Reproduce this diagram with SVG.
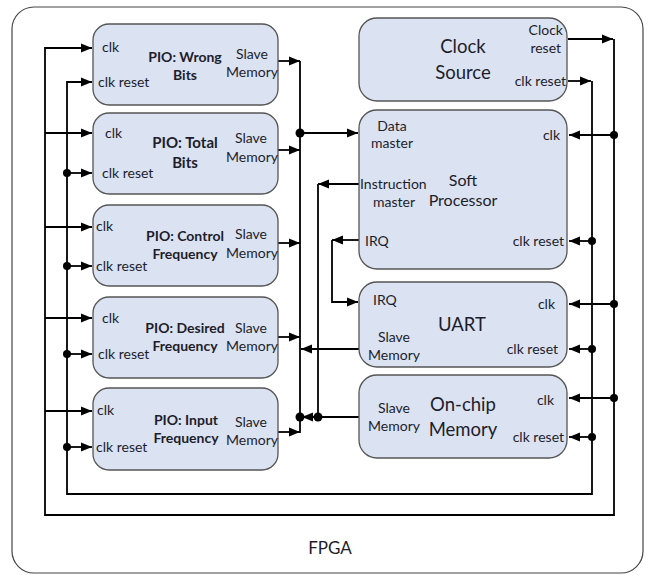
<svg xmlns="http://www.w3.org/2000/svg" width="652" height="575" viewBox="0 0 652 575">
<defs>
<marker id="ah" markerUnits="userSpaceOnUse" markerWidth="12" markerHeight="12" viewBox="0 0 12 12" refX="11" refY="6" orient="auto">
<path d="M0,1.5 L11,6 L0,10.5 Z" fill="#000"/>
</marker>
<style>
.frame{fill:#fff;stroke:#444;stroke-width:1.2}
.box{fill:#dbe2f2;stroke:#555;stroke-width:1.3}
.w{fill:none;stroke:#000;stroke-width:1.8}
.a{fill:none;stroke:#000;stroke-width:1.8;marker-end:url(#ah)}
.dot{fill:#000}
text{font-family:Lato,"Open Sans","Liberation Sans",sans-serif;fill:#1d1d2b}
.p{font-size:14px}
.b{font-size:14px;font-weight:bold}
.bl{font-size:15px;font-weight:bold}
.big{font-size:18.5px}
.mid{font-size:16px}
.m{text-anchor:middle}
.e{text-anchor:end}
</style>
</defs>
<rect class="frame" x="12" y="7" width="631" height="566" rx="22"/>

<g id="connectors">
<!-- clock net -->
<path class="a" d="M568,39 H613"/>
<path class="a" d="M614,39 V515 H45 V48 H92"/>
<path class="a" d="M45,133 H92"/>
<path class="a" d="M45,227 H92"/>
<path class="a" d="M45,318 H92"/>
<path class="a" d="M45,411 H92"/>
<path class="a" d="M614,135 H569"/>
<path class="a" d="M614,304 H569"/>
<path class="a" d="M614,398 H569"/>
<circle class="dot" cx="614" cy="135" r="4"/>
<circle class="dot" cx="614" cy="304" r="4"/>
<circle class="dot" cx="614" cy="398" r="4"/>
<!-- reset net -->
<path class="a" d="M568,81 H591"/>
<path class="a" d="M592,81 V494 H67 V82 H92"/>
<path class="a" d="M67,173 H92"/>
<path class="a" d="M67,266 H92"/>
<path class="a" d="M67,354 H92"/>
<path class="a" d="M67,447 H92"/>
<circle class="dot" cx="67" cy="173" r="4"/>
<circle class="dot" cx="67" cy="266" r="4"/>
<circle class="dot" cx="67" cy="354" r="4"/>
<circle class="dot" cx="67" cy="447" r="4"/>
<path class="a" d="M592,241 H569"/>
<path class="a" d="M592,349 H569"/>
<path class="a" d="M592,437 H569"/>
<circle class="dot" cx="592" cy="241" r="4"/>
<circle class="dot" cx="592" cy="349" r="4"/>
<circle class="dot" cx="592" cy="437" r="4"/>
<!-- data bus -->
<path class="w" d="M300,61 V433"/>
<path class="a" d="M278,61 H300"/>
<path class="a" d="M278,150 H300"/>
<path class="a" d="M278,243 H300"/>
<path class="a" d="M278,337 H300"/>
<path class="a" d="M278,432 H300"/>
<path class="a" d="M300,133 H358"/>
<circle class="dot" cx="300" cy="133" r="4.5"/>
<path class="a" d="M359,349 H301"/>
<path class="a" d="M359,417 H302"/>
<circle class="dot" cx="300" cy="417" r="4.5"/>
<circle class="dot" cx="318" cy="417" r="4.5"/>
<!-- instruction bus -->
<path class="a" d="M359,184 H318"/>
<path class="w" d="M318,184 V417"/>
<!-- IRQ -->
<path class="a" d="M359,240 H332"/>
<path class="a" d="M332,240 V302 H358"/>
</g>

<g id="pio-wrong-bits">
<rect class="box" x="93" y="24" width="185" height="81" rx="16"/>
<text class="p" x="102" y="52">clk</text>
<text class="p" x="98" y="87">clk reset</text>
<text class="b m" x="185" y="62">PIO: Wrong</text>
<text class="b m" x="185" y="80">Bits</text>
<text class="p m" x="252" y="59">Slave</text>
<text class="p e" x="278" y="77">Memory</text>
</g>

<g id="pio-total-bits">
<rect class="box" x="93" y="113" width="185" height="81" rx="16"/>
<text class="p" x="105" y="138">clk</text>
<text class="p" x="102" y="178">clk reset</text>
<text class="bl m" x="185" y="148">PIO: Total</text>
<text class="bl m" x="185" y="168">Bits</text>
<text class="p m" x="251" y="143">Slave</text>
<text class="p e" x="278" y="162">Memory</text>
</g>

<g id="pio-control-frequency">
<rect class="box" x="93" y="205" width="185" height="81" rx="16"/>
<text class="p" x="96" y="231">clk</text>
<text class="p" x="96" y="271">clk reset</text>
<text class="b m" x="185" y="241">PIO: Control</text>
<text class="b m" x="185" y="259">Frequency</text>
<text class="p m" x="251" y="239">Slave</text>
<text class="p e" x="278" y="258">Memory</text>
</g>

<g id="pio-desired-frequency">
<rect class="box" x="93" y="297" width="185" height="81" rx="16"/>
<text class="p" x="102" y="323">clk</text>
<text class="p" x="98" y="359">clk reset</text>
<text class="b m" x="185" y="333">PIO: Desired</text>
<text class="b m" x="185" y="351">Frequency</text>
<text class="p m" x="251" y="333">Slave</text>
<text class="p e" x="278" y="351">Memory</text>
</g>

<g id="pio-input-frequency">
<rect class="box" x="93" y="388" width="185" height="82" rx="16"/>
<text class="p" x="97" y="415">clk</text>
<text class="p" x="96" y="452">clk reset</text>
<text class="b m" x="186" y="425">PIO: Input</text>
<text class="b m" x="186" y="443">Frequency</text>
<text class="p m" x="251" y="427">Slave</text>
<text class="p e" x="278" y="445">Memory</text>
</g>

<g id="clock-source">
<rect class="box" x="359" y="18" width="208" height="83" rx="18"/>
<text class="big m" x="463" y="53">Clock</text>
<text class="big m" x="463" y="79">Source</text>
<text class="p e" x="563" y="35">Clock</text>
<text class="p e" x="561" y="53">reset</text>
<text class="p e" x="566" y="86">clk reset</text>
</g>

<g id="soft-processor">
<rect class="box" x="359" y="110" width="208" height="159" rx="18"/>
<text class="p m" x="392" y="131">Data</text>
<text class="p m" x="392" y="148">master</text>
<text class="p e" x="560" y="140">clk</text>
<text class="p" x="360" y="189">Instruction</text>
<text class="p m" x="394" y="207">master</text>
<text class="mid m" x="463" y="186">Soft</text>
<text class="mid m" x="463" y="206">Processor</text>
<text class="p" x="365" y="246">IRQ</text>
<text class="p e" x="564" y="246">clk reset</text>
</g>

<g id="uart">
<rect class="box" x="359" y="282" width="208" height="85" rx="18"/>
<text class="p" x="373" y="305">IRQ</text>
<text class="p e" x="555" y="309">clk</text>
<text class="big m" x="462" y="331">UART</text>
<text class="p m" x="394" y="342">Slave</text>
<text class="p m" x="394" y="360">Memory</text>
<text class="p e" x="558" y="354">clk reset</text>
</g>

<g id="on-chip-memory">
<rect class="box" x="359" y="375" width="208" height="83" rx="18"/>
<text class="p m" x="394" y="413">Slave</text>
<text class="p m" x="394" y="431">Memory</text>
<text class="big m" x="463" y="411">On-chip</text>
<text class="big m" x="463" y="436">Memory</text>
<text class="p e" x="554" y="405">clk</text>
<text class="p e" x="564" y="442">clk reset</text>
</g>

<text class="m" x="330" y="554" style="font-size:17px">FPGA</text>
</svg>
